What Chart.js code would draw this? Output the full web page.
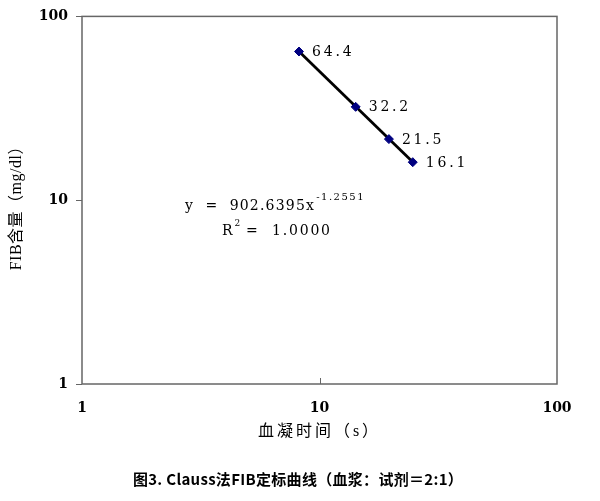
<!DOCTYPE html>
<html>
<head>
<meta charset="utf-8">
<script src="https://cdn.jsdelivr.net/npm/chart.js@4.4.1/dist/chart.umd.min.js"></script>
<style>
  html, body { margin: 0; padding: 0; background: #fff; }
</style>
</head>
<body>
<canvas id="fibChart" width="600" height="501"></canvas>
<script>
// clotting time (s) and FIB content (mg/dl)
const clotTimes = [8.2, 14.2, 19.6, 24.7];
const fibValues = [64.4, 32.2, 21.5, 16.1];
const pointLabels = ['64.4', '32.2', '21.5', '16.1'];
const xTicks = [1, 10, 100];
const yTicks = [1, 10, 100];

// power trendline y = a * x^b
const fitA = 902.6395;
const fitB = -1.2551;

const serif = '"DejaVu Serif", "Liberation Serif", serif';
const cjk = '"Liberation Serif", "Noto Sans CJK SC", serif';

const scatterData = clotTimes.map((x, i) => ({ x: x, y: fibValues[i] }));
const xMin = Math.min(...clotTimes), xMax = Math.max(...clotTimes);
const trendData = [xMin, xMax].map(x => ({ x: x, y: fitA * Math.pow(x, fitB) }));

function spaced(ctx, text, x, y, font, spacing) {
    ctx.font = font;
    ctx.letterSpacing = spacing + 'px';
    ctx.fillText(text, x, y);
    return ctx.measureText(text).width;
}

// box round the plot, inner tick on x axis, axis titles, point labels, equation, caption
const extras = {
    id: 'extras',
    beforeDatasetsDraw(chart) {
        const { ctx, chartArea: a, scales } = chart;
        ctx.save();
        ctx.strokeStyle = '#666';
        ctx.lineWidth = 1.5;
        ctx.strokeRect(a.left, a.top, a.right - a.left, a.bottom - a.top);
        const tx = Math.round(scales.x.getPixelForValue(10)) + 0.5;
        ctx.lineWidth = 1;
        ctx.beginPath();
        ctx.moveTo(tx, a.bottom);
        ctx.lineTo(tx, a.bottom - 6);
        ctx.stroke();
        ctx.restore();
    },
    afterDatasetsDraw(chart) {
        const { ctx, chartArea: a } = chart;
        const meta = chart.getDatasetMeta(1);
        ctx.save();
        ctx.fillStyle = '#000';
        ctx.textBaseline = 'middle';
        meta.data.forEach((pt, i) => {
            spaced(ctx, pointLabels[i], pt.x + 13, pt.y + 1, '14px ' + serif, 2.8);
        });

        // trendline equation
        ctx.textBaseline = 'alphabetic';
        let w = spaced(ctx, 'y  =  902.6395x', 185, 210, '14px ' + serif, 1.2);
        spaced(ctx, '-1.2551', 185 + w + 1, 200, '10px ' + serif, 1.5);
        w = spaced(ctx, 'R', 222, 235, '14px ' + serif, 0);
        spaced(ctx, '2', 222 + w + 2, 226, '9px ' + serif, 0);
        spaced(ctx, '=  1.0000', 246, 235, '14px ' + serif, 1.8);

        // axis titles
        ctx.textAlign = 'center';
        ctx.textBaseline = 'middle';
        spaced(ctx, '血凝时间（s）', (a.left + a.right) / 2, 432, '16px ' + cjk, 3);
        ctx.save();
        ctx.translate(17, (a.top + a.bottom) / 2 + 4);
        ctx.rotate(-Math.PI / 2);
        spaced(ctx, 'FIB含量（mg/dl）', 0, 0, '16px ' + cjk, 0.5);
        ctx.restore();

        // caption
        spaced(ctx, '图3. Clauss法FIB定标曲线（血浆：试剂＝2:1）', 298, 479,
            'bold 15px "Noto Sans CJK SC", sans-serif', 0.3);
        ctx.restore();
    }
};

const ctx = document.getElementById('fibChart').getContext('2d');

new Chart(ctx, {
    type: 'scatter',
    data: {
        datasets: [{
            type: 'line',
            data: trendData,
            borderColor: '#000',
            borderWidth: 2.8,
            pointRadius: 0,
            fill: false,
            order: 2
        }, {
            data: scatterData,
            pointStyle: 'rectRot',
            pointRadius: 4.5,
            backgroundColor: '#000080',
            borderColor: '#000080',
            order: 1
        }]
    },
    options: {
        responsive: false,
        animation: false,
        layout: { padding: { left: 0, right: 43, top: 16, bottom: 53 } },
        plugins: {
            legend: { display: false },
            tooltip: { enabled: false }
        },
        scales: {
            x: {
                type: 'logarithmic',
                min: 1,
                max: 100,
                afterBuildTicks: s => { s.ticks = xTicks.map(v => ({ value: v })); },
                afterFit: s => { s.height = 64; },
                grid: { display: false },
                border: { display: false },
                ticks: {
                    color: '#000',
                    font: { family: serif, size: 14, weight: 'bold' },
                    padding: 8,
                    maxRotation: 0,
                    callback: v => String(v)
                }
            },
            y: {
                type: 'logarithmic',
                min: 1,
                max: 100,
                afterBuildTicks: s => { s.ticks = yTicks.map(v => ({ value: v })); },
                afterFit: s => { s.width = 82; },
                grid: { drawOnChartArea: false, tickLength: 6, color: '#666' },
                border: { display: false },
                ticks: {
                    color: '#000',
                    font: { family: serif, size: 14, weight: 'bold' },
                    padding: 8,
                    callback: v => String(v)
                }
            }
        }
    },
    plugins: [extras]
});
</script>
</body>
</html>
